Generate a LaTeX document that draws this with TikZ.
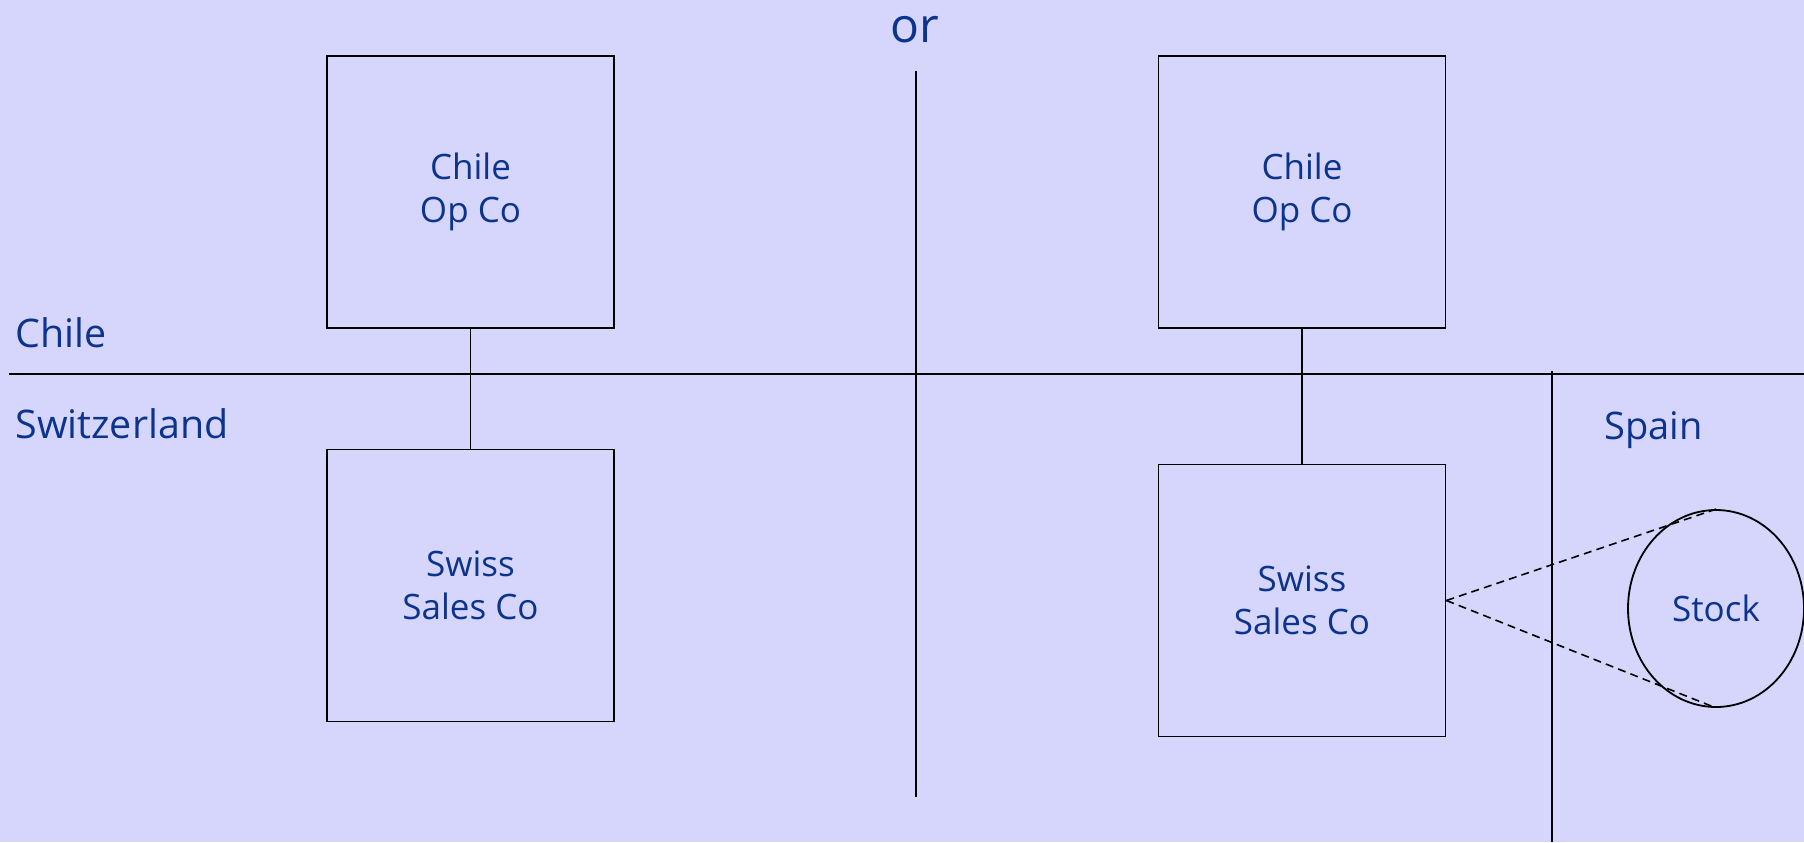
\documentclass[tikz,border=0pt]{standalone}
\usepackage{fontspec}
\setmainfont{Open Sans}
\usetikzlibrary{shapes.geometric}
\definecolor{paper}{RGB}{214,214,253}
\definecolor{ink}{RGB}{12,52,140}
\begin{document}
\begin{tikzpicture}[x=0.5pt,y=-0.5pt,
  line/.style={draw=black,line width=0.9pt},
  company/.style={line,rectangle,minimum width=143.5pt,minimum height=136pt,inner sep=0pt,
    align=center,text=ink,font=\fontsize{17.5}{21.7}\selectfont},
  region/.style={inner sep=0pt,text=ink,font=\fontsize{19.7}{22}\selectfont},
  link/.style={line},
  flow/.style={draw=black,line width=0.8pt,dash pattern=on 4pt off 2.6pt}]
  % page
  \fill[paper] (0,0) rectangle (1804,842);
  \useasboundingbox (0,0) rectangle (1804,842);

  % borders between countries
  \coordinate (bw) at (9,374);
  \coordinate (be) at (1804,374);
  \coordinate (dt) at (916,71);
  \coordinate (db) at (916,797);
  \coordinate (st) at (1552,371);
  \coordinate (sb) at (1552,842);
  \draw[line] (bw) -- (be);
  \draw[line] (dt) -- (db);
  \draw[line] (st) -- (sb);

  % country labels
  \node[region,anchor=base west] (chile) at (15,347) {Chile};
  \node[region,anchor=base west] (swiss) at (15,438) {Switzerland};
  \node[region,anchor=base west,font=\fontsize{19}{22}\selectfont] (spain) at (1604,439) {Spain};
  \node[inner sep=0pt,text=ink,font=\fontsize{24}{28}\selectfont,anchor=base] (or) at (915,42) {or};

  % first structure
  \node[company] (opA) at (470.5,192) {Chile\\Op Co};
  \node[company] (salesA) at (470.5,585.5) {Swiss\\Sales Co};
  \draw[link] (opA) -- (salesA);

  % second structure
  \node[company] (opB) at (1302,192) {Chile\\Op Co};
  \node[company] (salesB) at (1302,600.5) {Swiss\\Sales Co};
  \draw[link] (opB) -- (salesB);

  % stock held in Spain
  \node[line,ellipse,minimum width=88pt,minimum height=98.5pt,inner sep=0pt,
    text=ink,font=\fontsize{17.5}{22}\selectfont] (stock) at (1716,608.5) {Stock};
  \draw[flow] (salesB.east) -- (stock.north);
  \draw[flow] (salesB.east) -- (stock.south);
\end{tikzpicture}
\end{document}
